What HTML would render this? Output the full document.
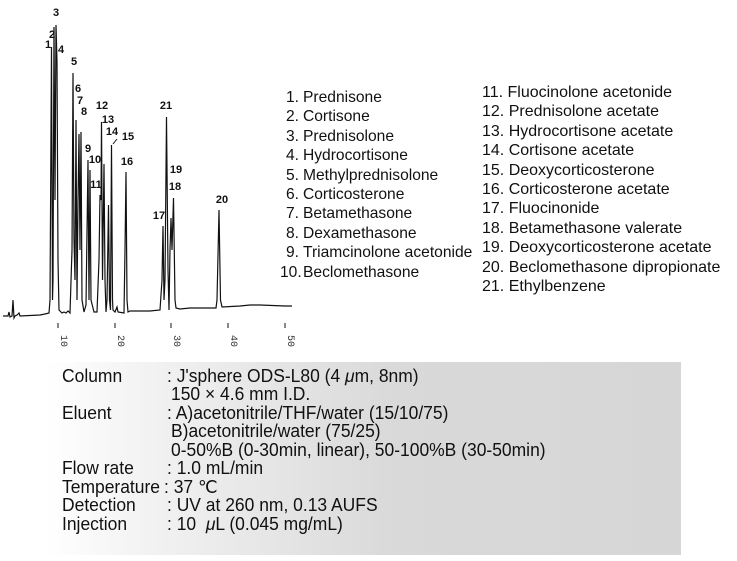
<!DOCTYPE html>
<html><head><meta charset="utf-8"><style>
body{margin:0;background:#fff;width:737px;height:561px;overflow:hidden;position:relative;font-family:"Liberation Sans",Arial,sans-serif;color:#111}
.lg{position:absolute;font-size:16px;line-height:19.4px;white-space:nowrap}
.lg div span{display:inline-block;text-align:right;margin-right:4px}
.panel{position:absolute;left:45px;top:362px;width:636px;height:193px;background:linear-gradient(90deg,#fff 0%,#f3f3f3 15%,#d9d9d9 55%,#d6d6d6 100%)}
.panel div{position:absolute;font-size:18px;white-space:nowrap;transform:scaleX(0.97);transform-origin:left}
</style></head><body>
<svg width="737" height="561" style="position:absolute;left:0;top:0">
<g fill="none" stroke="#111" stroke-width="1.2">
<polyline points="3,316 8,316 9,312 10,317 12,316 13,300 14,318 15,316 17,315 19,313 20,316 40,315 45,314 49,313 50,300 51.5,47 52.5,300 53,280 54,27 55,200 56,25 57,62 58,260 59,310 62,313 64,312 66,313 68,311 70,313 72,250 73,73 74,240 75,280 76,120 77,300 78,200 79,134 80,250 81,132 82,300 84,312 86,305 88,160 89,300 90,170 91,300 94,312 97,312 99,260 100,195 101,200 101.5,122 102.5,280 104,164 105,280 106,312 107,300 108.5,205 109.5,300 110.5,310 111.5,145 112.5,300 113,310 115,312 117,307 118,312 124,313 125,250 126,172 127,300 128,312 130,311 150,311 160,310 162,280 163,226 164,300 165,280 166.5,117 168,270 169,310 170,250 171,218 172,250 173.5,198 175,300 176,308 180,309 190,308 216,308 217,300 219,210 220.5,300 222,307 240,306 250,305 260,305 285,306 292,306"/>
</g>
<g stroke="#111" stroke-width="1"><line x1="58" y1="323" x2="58" y2="328"/><line x1="115" y1="323" x2="115" y2="328"/><line x1="171" y1="323" x2="171" y2="328"/><line x1="228" y1="323" x2="228" y2="328"/><line x1="285" y1="323" x2="285" y2="328"/><line x1="113" y1="144" x2="117" y2="139"/></g>
<g font-size="10" font-family="Liberation Mono,monospace" fill="#333">
<text transform="translate(61,335) rotate(90)" >10</text>
<text transform="translate(118,335) rotate(90)">20</text>
<text transform="translate(174,335) rotate(90)">30</text>
<text transform="translate(231,335) rotate(90)">40</text>
<text transform="translate(288,335) rotate(90)">50</text>
</g>
<g font-size="11" font-weight="bold" fill="#111" text-anchor="middle">
<text x="56" y="16">3</text><text x="52" y="38">2</text><text x="48" y="48">1</text><text x="61" y="53">4</text>
<text x="74" y="65">5</text><text x="78" y="92">6</text><text x="80" y="104">7</text><text x="84" y="115">8</text>
<text x="88" y="152">9</text><text x="95" y="163">10</text><text x="96" y="188">11</text>
<text x="102" y="109">12</text><text x="108" y="123">13</text><text x="112" y="135">14</text><text x="128" y="140">15</text>
<text x="127" y="165">16</text><text x="159" y="219">17</text><text x="166" y="109">21</text>
<text x="175" y="190">18</text><text x="176" y="173">19</text><text x="222" y="203">20</text>
</g>
</svg>
<div class="lg" style="left:280px;top:88px;font-size:15.6px">
<div><span style="width:19px">1.</span>Prednisone</div><div><span style="width:19px">2.</span>Cortisone</div><div><span style="width:19px">3.</span>Prednisolone</div><div><span style="width:19px">4.</span>Hydrocortisone</div><div><span style="width:19px">5.</span>Methylprednisolone</div><div><span style="width:19px">6.</span>Corticosterone</div><div><span style="width:19px">7.</span>Betamethasone</div><div><span style="width:19px">8.</span>Dexamethasone</div><div><span style="width:19px">9.</span>Triamcinolone acetonide</div><div><span style="width:19px">10.</span>Beclomethasone</div>
</div>
<div class="lg" style="left:482px;top:83px">
<div>11. Fluocinolone acetonide</div><div>12. Prednisolone acetate</div><div>13. Hydrocortisone acetate</div><div>14. Cortisone acetate</div><div>15. Deoxycorticosterone</div><div>16. Corticosterone acetate</div><div>17. Fluocinonide</div><div>18. Betamethasone valerate</div><div>19. Deoxycorticosterone acetate</div><div>20. Beclomethasone dipropionate</div><div>21. Ethylbenzene</div>
</div>
<div class="panel">
<div style="left:17px;top:4px">Column</div><div style="left:122px;top:4px">: J'sphere ODS-L80 (4 <i>μ</i>m, 8nm)</div>
<div style="left:126px;top:22px">150 × 4.6 mm I.D.</div>
<div style="left:17px;top:41px">Eluent</div><div style="left:122px;top:41px">: A)acetonitrile/THF/water (15/10/75)</div>
<div style="left:126px;top:59px">B)acetonitrile/water (75/25)</div>
<div style="left:126px;top:78px">0-50%B (0-30min, linear), 50-100%B (30-50min)</div>
<div style="left:17px;top:96px">Flow rate</div><div style="left:122px;top:96px">: 1.0 mL/min</div>
<div style="left:17px;top:115px">Temperature</div><div style="left:119px;top:115px">: 37 ℃</div>
<div style="left:17px;top:133px">Detection</div><div style="left:122px;top:133px">: UV at 260 nm, 0.13 AUFS</div>
<div style="left:17px;top:152px">Injection</div><div style="left:122px;top:152px">: 10 &nbsp;<i>μ</i>L (0.045 mg/mL)</div>
</div>
</body></html>
